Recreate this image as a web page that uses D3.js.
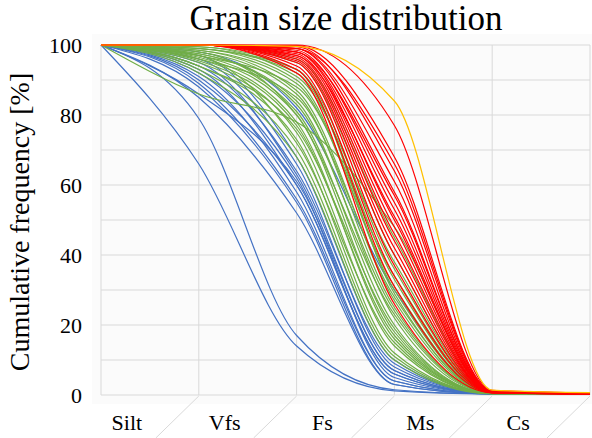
<!DOCTYPE html>
<html>
<head>
<meta charset="utf-8">
<title>Grain size distribution</title>
<script src="https://cdn.jsdelivr.net/npm/d3@7"></script>
<style>
  body { margin: 0; background: #fff; }
  svg text { font-family: "Liberation Serif", "Times New Roman", serif; }
</style>
</head>
<body>
<div id="chart"></div>
<script>
// category labels (between the class boundaries) and y ticks
var categories = ["Silt", "Vfs", "Fs", "Ms", "Cs"];
var boundaries = [0, 1, 2, 3, 4, 5];
var yTicks = [0, 20, 40, 60, 80, 100];

// cumulative frequency [%] at each class boundary, one row per sample
var blueSeries = [
  [100, 66, 14, 1.2, 0.3, 0.2],
  [100, 79, 17, 1.5, 0.3, 0.2],
  [100, 97, 68, 10, 0.5, 0.3],
  [100, 96, 66, 8, 0.5, 0.3],
  [100, 95, 63, 7, 0.4, 0.2],
  [100, 94, 64, 9, 0.5, 0.3],
  [100, 93, 60, 6, 0.4, 0.2],
  [100, 92, 62, 5, 0.4, 0.2],
  [100, 91, 58, 4, 0.3, 0.2],
  [100, 90, 60, 6, 0.4, 0.2],
  [100, 89, 56, 4, 0.3, 0.2],
  [100, 88, 55, 3, 0.3, 0.2],
  [100, 86, 61, 7, 0.4, 0.2],
  [100, 85, 52, 3, 0.3, 0.2],
  [100, 98, 82, 30, 0.6, 0.3]
];

var greenSeries = [
  [100, 100, 96, 45, 0.9, 0.6],
  [100, 100, 95, 40, 0.8, 0.5],
  [100, 99.5, 93, 36, 0.8, 0.5],
  [100, 99, 92, 33, 0.7, 0.4],
  [100, 99, 90, 30, 0.7, 0.4],
  [100, 98.5, 89, 31, 0.7, 0.4],
  [100, 98.5, 87, 27, 0.6, 0.4],
  [100, 98, 86, 25, 0.6, 0.3],
  [100, 97.5, 84, 22, 0.6, 0.3],
  [100, 97.5, 83, 24, 0.6, 0.3],
  [100, 97, 81, 20, 0.5, 0.3],
  [100, 96.5, 80, 18, 0.5, 0.3],
  [100, 96, 78, 16, 0.5, 0.2],
  [100, 95.5, 77, 17, 0.5, 0.2],
  [100, 95, 75, 14, 0.4, 0.2],
  [100, 94, 73, 12, 0.4, 0.2],
  [100, 93, 70, 11, 0.4, 0.2],
  [100, 92, 68, 10, 0.3, 0.2],
  [100, 86, 78, 48, 0.9, 0.5],
  [100, 97, 88, 34, 0.7, 0.4],
  [100, 99, 93, 29, 0.7, 0.4],
  [100, 98, 80, 23, 0.5, 0.3],
  [100, 99.5, 91, 38, 0.8, 0.5],
  [100, 96, 85, 28, 0.6, 0.3],
  [100, 94, 76, 19, 0.5, 0.3],
  [100, 97, 72, 15, 0.4, 0.2]
];

var redSeries = [
  [100, 100, 100, 77, 1.3, 0.6],
  [100, 100, 99.8, 68, 1.2, 0.5],
  [100, 100, 99.5, 64, 1.1, 0.5],
  [100, 100, 99, 61, 1.0, 0.5],
  [100, 100, 99, 58, 1.0, 0.4],
  [100, 100, 98.5, 55, 0.9, 0.4],
  [100, 100, 98, 53, 0.9, 0.4],
  [100, 100, 98, 50, 0.9, 0.4],
  [100, 100, 97.5, 48, 0.8, 0.4],
  [100, 100, 97, 46, 0.8, 0.4],
  [100, 100, 96.5, 44, 0.8, 0.4],
  [100, 100, 96, 42, 0.8, 0.3],
  [100, 100, 95.5, 40, 0.7, 0.3],
  [100, 100, 95, 37, 0.7, 0.3],
  [100, 100, 94, 34, 0.7, 0.3],
  [100, 100, 93, 31, 0.6, 0.3],
  [100, 100, 92, 26, 0.6, 0.3],
  [100, 100, 99, 66, 1.1, 0.5],
  [100, 100, 98, 57, 1.0, 0.4],
  [100, 100, 97, 51, 0.9, 0.4]
];

var orangeSeries = [
  [100, 100, 99.6, 84, 1.4, 0.7]
];

var groups = [
  { rows: blueSeries, color: "#4472C4" },
  { rows: greenSeries, color: "#70AD47" },
  { rows: redSeries, color: "#FF0000" },
  { rows: orangeSeries, color: "#FFC000" }
];

var serif = "'Liberation Serif', 'Times New Roman', serif";
var width = 592, height = 438;
var margin = { top: 45, right: 2, bottom: 43, left: 101 };

var svg = d3.select("#chart").append("svg")
    .attr("width", width)
    .attr("height", height)
    .attr("font-family", serif);

svg.append("rect").attr("width", width).attr("height", height).attr("fill", "#fff");
// faint chart-area fill
svg.append("rect")
    .attr("x", 92).attr("y", 34)
    .attr("width", width - 92).attr("height", 370)
    .attr("fill", "#fbfbfb");

var x = d3.scaleLinear().domain([0, 5]).range([margin.left, width - margin.right]);
var y = d3.scaleLinear().domain([0, 100]).range([height - margin.bottom, margin.top]);

// gridlines
svg.append("g").selectAll("line")
    .data(d3.range(0, 101, 10))
    .join("line")
    .attr("x1", x(0)).attr("x2", x(5))
    .attr("y1", function(d) { return y(d); })
    .attr("y2", function(d) { return y(d); })
    .attr("stroke", "#d9d9d9").attr("stroke-width", 1);

svg.append("g").selectAll("line")
    .data(boundaries)
    .join("line")
    .attr("x1", function(d) { return x(d); })
    .attr("x2", function(d) { return x(d); })
    .attr("y1", y(0)).attr("y2", y(100))
    .attr("stroke", "#d9d9d9").attr("stroke-width", 1);

// slanted separators under the category axis
svg.append("g").selectAll("line")
    .data(boundaries.slice(1))
    .join("line")
    .attr("x1", function(d) { return x(d); })
    .attr("y1", y(0) + 1)
    .attr("x2", function(d) { return x(d) - 43; })
    .attr("y2", height)
    .attr("stroke", "#d9d9d9").attr("stroke-width", 1);

// category labels
svg.append("g").selectAll("text")
    .data(categories)
    .join("text")
    .attr("x", function(d, i) { return x(i + 0.5) - 23; })
    .attr("y", 430)
    .attr("text-anchor", "middle")
    .attr("font-family", serif)
    .style("font-size", "22px")
    .attr("fill", "#000")
    .text(function(d) { return d; });

// y axis labels
var yAxis = svg.append("g")
    .attr("transform", "translate(" + margin.left + ",0)")
    .call(d3.axisLeft(y).tickValues(yTicks).tickSize(0).tickPadding(19));
yAxis.select(".domain").remove();
yAxis.attr("font-family", serif).attr("font-size", 22);
yAxis.selectAll("text")
    .attr("font-family", serif)
    .style("font-size", "22px")
    .attr("fill", "#000");

// curves
svg.append("clipPath").attr("id", "plotclip")
  .append("rect")
    .attr("x", x(0) - 2).attr("y", y(100) - 2)
    .attr("width", x(5) - x(0) + 4).attr("height", y(0) - y(100) + 4);

var line = d3.line()
    .x(function(d, i) { return x(i); })
    .y(function(d) { return y(d); })
    .curve(d3.curveMonotoneX);

var plot = svg.append("g").attr("clip-path", "url(#plotclip)");
groups.forEach(function(g) {
  plot.append("g").selectAll("path")
      .data(g.rows)
      .join("path")
      .attr("d", line)
      .attr("fill", "none")
      .attr("stroke", g.color)
      .attr("stroke-width", 1.2);
});

// titles
svg.append("text")
    .attr("x", 346).attr("y", 30)
    .attr("text-anchor", "middle")
    .attr("font-family", serif)
    .style("font-size", "35px")
    .attr("fill", "#000")
    .text("Grain size distribution");

svg.append("text")
    .attr("transform", "translate(29,222) rotate(-90)")
    .attr("text-anchor", "middle")
    .attr("font-family", serif)
    .style("font-size", "28px")
    .attr("fill", "#000")
    .text("Cumulative frequency [%]");
</script>
</body>
</html>
